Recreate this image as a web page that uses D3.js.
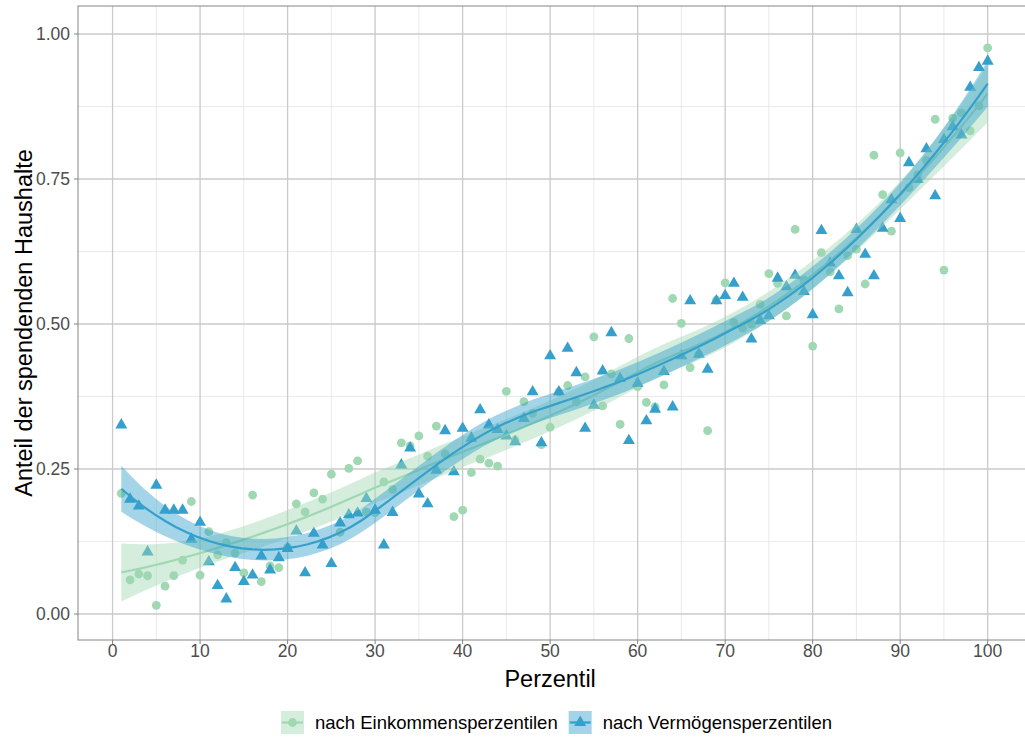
<!DOCTYPE html>
<meta charset="utf-8">
<style>
    body {
        margin: 0;
        background: #fff;
    }

    .tick-label {
        font: 17.5px "Liberation Sans", Arial, sans-serif;
        fill: #4d4d4d;
    }

    .axis-title {
        font: 23.5px "Liberation Sans", Arial, sans-serif;
        fill: #000;
    }

    .legend-label {
        font: 18.5px "Liberation Sans", Arial, sans-serif;
        fill: #000;
    }
</style>

<body>
    <script src="https://d3js.org/d3.v7.min.js"></script>
    <script>
        // Data: share of donating households per percentile
        var percentiles = d3.range(1, 101);

        var einkommen = [
            0.208, 0.059, 0.069, 0.066, 0.015, 0.048, 0.066, 0.093, 0.194, 0.067,
            0.142, 0.102, 0.123, 0.105, 0.071, 0.205, 0.056, 0.083, 0.080, 0.115,
            0.190, 0.176, 0.209, 0.198, 0.241, 0.141, 0.251, 0.264, 0.176, 0.175,
            0.228, 0.215, 0.295, 0.290, 0.307, 0.272, 0.324, 0.276, 0.168, 0.179,
            0.244, 0.267, 0.260, 0.255, 0.384, 0.300, 0.366, 0.346, 0.292, 0.322,
            0.383, 0.394, 0.366, 0.409, 0.478, 0.359, 0.414, 0.327, 0.475, 0.392,
            0.365, 0.357, 0.395, 0.544, 0.501, 0.425, 0.448, 0.316, 0.541, 0.571,
            0.503, 0.493, 0.500, 0.534, 0.587, 0.570, 0.514, 0.663, 0.576, 0.462,
            0.623, 0.590, 0.526, 0.618, 0.629, 0.569, 0.791, 0.723, 0.660, 0.795,
            0.735, 0.757, 0.782, 0.853, 0.593, 0.855, 0.864, 0.833, 0.876, 0.976
        ];

        var vermoegen = [
            0.326, 0.198, 0.186, 0.107, 0.222, 0.179, 0.179, 0.179, 0.129, 0.158,
            0.090, 0.049, 0.026, 0.080, 0.056, 0.067, 0.100, 0.076, 0.097, 0.113,
            0.143, 0.071, 0.139, 0.119, 0.087, 0.157, 0.171, 0.174, 0.199, 0.179,
            0.119, 0.175, 0.257, 0.286, 0.207, 0.190, 0.248, 0.316, 0.245, 0.320,
            0.303, 0.352, 0.326, 0.318, 0.307, 0.297, 0.337, 0.383, 0.295, 0.445,
            0.383, 0.458, 0.416, 0.320, 0.360, 0.419, 0.485, 0.406, 0.299, 0.398,
            0.333, 0.353, 0.418, 0.357, 0.445, 0.540, 0.448, 0.422, 0.540, 0.549,
            0.570, 0.546, 0.474, 0.506, 0.514, 0.579, 0.564, 0.584, 0.556, 0.516,
            0.661, 0.605, 0.583, 0.554, 0.663, 0.620, 0.583, 0.665, 0.714, 0.682,
            0.778, 0.749, 0.802, 0.721, 0.818, 0.840, 0.826, 0.908, 0.942, 0.953
        ];

        var seriesNames = ["nach Einkommensperzentilen", "nach Vermögensperzentilen"];
        var seriesColors = ["#9fd8b2", "#35a0cb"];

        var xTicks = [0, 10, 20, 30, 40, 50, 60, 70, 80, 90, 100];
        var xMinor = [5, 15, 25, 35, 45, 55, 65, 75, 85, 95];
        var yTicks = [0, 0.25, 0.5, 0.75, 1];
        var yMinor = [0.125, 0.375, 0.625, 0.875];

        // Panel geometry
        var width = 1025,
            height = 740;
        var panel = {
            left: 78,
            top: 6,
            right: 1031,
            bottom: 640
        };

        var svg = d3.select("body").append("svg")
            .attr("width", width)
            .attr("height", height);

        var x = d3.scaleLinear().domain([-3.95, 104.95]).range([panel.left, panel.right]);
        var y = d3.scaleLinear().domain([-0.0448, 1.0483]).range([panel.bottom, panel.top]);

        /* ---------------------- */
        /* loess (degree 2, span 0.6) with standard errors, like geom_smooth */
        /* ---------------------- */
        var span = 0.6;

        function invert3(m) {
            var a = m[0][0], b = m[0][1], c = m[0][2],
                d = m[1][0], e = m[1][1], f = m[1][2],
                g = m[2][0], h = m[2][1], i = m[2][2];
            var A = e * i - f * h, B = -(d * i - f * g), C = d * h - e * g;
            var det = a * A + b * B + c * C;
            return [
                [A / det, -(b * i - c * h) / det, (b * f - c * e) / det],
                [B / det, (a * i - c * g) / det, -(a * f - c * d) / det],
                [C / det, -(a * h - b * g) / det, (a * e - b * d) / det]
            ];
        }

        // weights l so that fit(x0) = sum l_j * y_j
        function loessRow(x0, xs, q) {
            var dist = xs.map(function (v) { return Math.abs(v - x0); });
            var h = dist.slice().sort(d3.ascending)[q - 1];
            var w = dist.map(function (v) {
                var u = v / h;
                return u < 1 ? Math.pow(1 - u * u * u, 3) : 0;
            });
            var s = [[0, 0, 0], [0, 0, 0], [0, 0, 0]];
            xs.forEach(function (v, j) {
                var t = v - x0, p = [1, t, t * t];
                for (var a = 0; a < 3; a++)
                    for (var b = 0; b < 3; b++) s[a][b] += w[j] * p[a] * p[b];
            });
            var inv = invert3(s);
            return xs.map(function (v, j) {
                var t = v - x0;
                return w[j] * (inv[0][0] + inv[0][1] * t + inv[0][2] * t * t);
            });
        }

        function tQuantile975(df) {
            var z = 1.959964;
            return z + (z * z * z + z) / (4 * df) +
                (5 * Math.pow(z, 5) + 16 * z * z * z + 3 * z) / (96 * df * df);
        }

        function smooth(xs, ys) {
            var n = xs.length,
                q = Math.floor(n * span);
            // hat matrix at the data points
            var L = xs.map(function (v) { return loessRow(v, xs, q); });
            var rss = 0;
            var M = L.map(function (row, i) {
                var fit = d3.sum(row, function (l, j) { return l * ys[j]; });
                rss += (ys[i] - fit) * (ys[i] - fit);
                return row.map(function (l, j) { return (i === j ? 1 : 0) - l; });
            });
            // one.delta = tr(M'M), two.delta = tr((M'M)^2)
            var MtM = [];
            for (var a = 0; a < n; a++) {
                MtM.push([]);
                for (var b = 0; b < n; b++) {
                    var sum = 0;
                    for (var k = 0; k < n; k++) sum += M[k][a] * M[k][b];
                    MtM[a].push(sum);
                }
            }
            var one = 0, two = 0;
            for (var a2 = 0; a2 < n; a2++) {
                one += MtM[a2][a2];
                for (var b2 = 0; b2 < n; b2++) two += MtM[a2][b2] * MtM[b2][a2];
            }
            var sigma = Math.sqrt(rss / one);
            var tq = tQuantile975(one * one / two);

            var lo = d3.min(xs), hi = d3.max(xs);
            return d3.range(80).map(function (i) {
                var x0 = lo + i * (hi - lo) / 79;
                var row = loessRow(x0, xs, q);
                var fit = d3.sum(row, function (l, j) { return l * ys[j]; });
                var se = sigma * Math.sqrt(d3.sum(row, function (l) { return l * l; }));
                return { x: x0, y: fit, ymin: fit - tq * se, ymax: fit + tq * se };
            });
        }

        var series = [einkommen, vermoegen].map(function (vals, k) {
            return {
                name: seriesNames[k],
                color: seriesColors[k],
                points: vals.map(function (v, i) { return { x: percentiles[i], y: v }; }),
                fit: smooth(percentiles, vals)
            };
        });

        /* ---------------------- */
        /* Panel and grid */
        /* ---------------------- */
        svg.append("rect")
            .attr("x", panel.left).attr("y", panel.top)
            .attr("width", panel.right - panel.left).attr("height", panel.bottom - panel.top)
            .attr("fill", "#fff");

        var grid = svg.append("g");
        grid.selectAll(".xminor").data(xMinor).enter().append("line")
            .attr("x1", d => x(d)).attr("x2", d => x(d))
            .attr("y1", panel.top).attr("y2", panel.bottom)
            .attr("stroke", "#e4e4e4").attr("stroke-width", 0.8);
        grid.selectAll(".yminor").data(yMinor).enter().append("line")
            .attr("y1", d => y(d)).attr("y2", d => y(d))
            .attr("x1", panel.left).attr("x2", panel.right)
            .attr("stroke", "#e4e4e4").attr("stroke-width", 0.8);
        grid.selectAll(".xmajor").data(xTicks).enter().append("line")
            .attr("x1", d => x(d)).attr("x2", d => x(d))
            .attr("y1", panel.top).attr("y2", panel.bottom)
            .attr("stroke", "#cacaca").attr("stroke-width", 1.3);
        grid.selectAll(".ymajor").data(yTicks).enter().append("line")
            .attr("y1", d => y(d)).attr("y2", d => y(d))
            .attr("x1", panel.left).attr("x2", panel.right)
            .attr("stroke", "#cacaca").attr("stroke-width", 1.3);

        /* ---------------------- */
        /* Points, then smooths on top */
        /* ---------------------- */
        svg.append("g").selectAll("circle")
            .data(series[0].points)
            .enter().append("circle")
            .attr("cx", d => x(d.x))
            .attr("cy", d => y(d.y))
            .attr("r", 4.4)
            .attr("fill", series[0].color);

        var triangle = d3.symbol().type(d3.symbolTriangle).size(62);
        svg.append("g").selectAll("path")
            .data(series[1].points)
            .enter().append("path")
            .attr("d", triangle)
            .attr("transform", d => "translate(" + x(d.x) + "," + y(d.y) + ")")
            .attr("fill", series[1].color);

        var band = d3.area()
            .x(d => x(d.x)).y0(d => y(d.ymin)).y1(d => y(d.ymax));
        var line = d3.line()
            .x(d => x(d.x)).y(d => y(d.y));

        series.forEach(function (s) {
            var g = svg.append("g");
            g.append("path")
                .attr("d", band(s.fit))
                .attr("fill", s.color)
                .attr("fill-opacity", 0.45);
            g.append("path")
                .attr("d", line(s.fit))
                .attr("fill", "none")
                .attr("stroke", s.color)
                .attr("stroke-width", 2.2);
        });

        // Border
        svg.append("rect")
            .attr("x", panel.left).attr("y", panel.top)
            .attr("width", panel.right - panel.left).attr("height", panel.bottom - panel.top)
            .attr("fill", "none")
            .attr("stroke", "#858585")
            .attr("stroke-width", 1);

        /* ---------------------- */
        /* Axes */
        /* ---------------------- */
        var xAxis = svg.append("g");
        xAxis.selectAll("line").data(xTicks).enter().append("line")
            .attr("x1", d => x(d)).attr("x2", d => x(d))
            .attr("y1", panel.bottom).attr("y2", panel.bottom + 4)
            .attr("stroke", "#858585");
        xAxis.selectAll("text").data(xTicks).enter().append("text")
            .attr("class", "tick-label")
            .attr("x", d => x(d))
            .attr("y", panel.bottom + 17)
            .attr("text-anchor", "middle")
            .text(d => d);

        var yAxis = svg.append("g");
        yAxis.selectAll("line").data(yTicks).enter().append("line")
            .attr("y1", d => y(d)).attr("y2", d => y(d))
            .attr("x1", panel.left - 4).attr("x2", panel.left)
            .attr("stroke", "#858585");
        yAxis.selectAll("text").data(yTicks).enter().append("text")
            .attr("class", "tick-label")
            .attr("x", panel.left - 8)
            .attr("y", d => y(d))
            .attr("dy", "0.36em")
            .attr("text-anchor", "end")
            .text(d => d3.format(".2f")(d));

        svg.append("text")
            .attr("class", "axis-title")
            .attr("x", x(50))
            .attr("y", 687)
            .attr("text-anchor", "middle")
            .text("Perzentil");

        svg.append("text")
            .attr("class", "axis-title")
            .attr("transform", "translate(32," + ((panel.top + panel.bottom) / 2) + ") rotate(-90)")
            .attr("text-anchor", "middle")
            .text("Anteil der spendenden Haushalte");

        /* ---------------------- */
        /* Legend */
        /* ---------------------- */
        var legend = svg.append("g").attr("transform", "translate(281,711)");
        var keySize = 23;
        var offset = 0;
        series.forEach(function (s, k) {
            var item = legend.append("g").attr("transform", "translate(" + offset + ",0)");
            item.append("rect")
                .attr("width", keySize).attr("height", keySize)
                .attr("fill", s.color).attr("fill-opacity", 0.45);
            item.append("line")
                .attr("x1", 1).attr("x2", keySize - 1)
                .attr("y1", keySize / 2).attr("y2", keySize / 2)
                .attr("stroke", s.color).attr("stroke-width", 2.2);
            if (k === 0) {
                item.append("circle")
                    .attr("cx", keySize / 2).attr("cy", keySize / 2)
                    .attr("r", 4.4).attr("fill", s.color);
            } else {
                item.append("path")
                    .attr("d", triangle)
                    .attr("transform", "translate(" + keySize / 2 + "," + keySize / 2 + ")")
                    .attr("fill", s.color);
            }
            var label = item.append("text")
                .attr("class", "legend-label")
                .attr("x", keySize + 11)
                .attr("y", keySize / 2)
                .attr("dy", "0.36em")
                .text(s.name);
            offset += keySize + 11 + label.node().getComputedTextLength() + 11;
        });
    </script>
</body>
